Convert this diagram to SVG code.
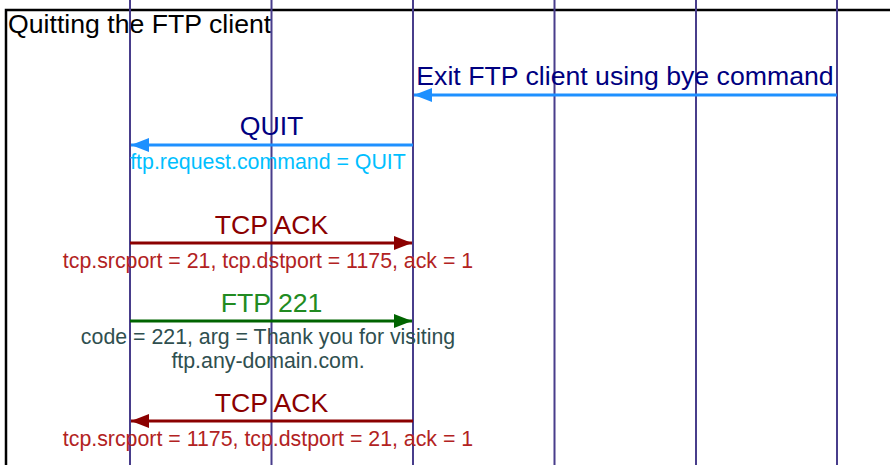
<svg xmlns="http://www.w3.org/2000/svg" width="890" height="465" viewBox="0 0 890 465">
<style>
  text { font-family: "Liberation Sans", Arial, sans-serif; }
  .life { stroke: #483D8B; stroke-width: 2; fill: none; }
  .lbl { font-size: 26.67px; text-anchor: middle; }
  .sub { font-size: 21.33px; text-anchor: middle; }
</style>
<defs>
  <marker id="hBlue" markerUnits="userSpaceOnUse" markerWidth="18" markerHeight="14" refX="18" refY="7" orient="auto"><path d="M0,0 L18,7 L0,14 Z" fill="#1E90FF"/></marker>
  <marker id="hRed" markerUnits="userSpaceOnUse" markerWidth="18" markerHeight="14" refX="18" refY="7" orient="auto"><path d="M0,0 L18,7 L0,14 Z" fill="#8B0000"/></marker>
  <marker id="hGreen" markerUnits="userSpaceOnUse" markerWidth="18" markerHeight="14" refX="18" refY="7" orient="auto"><path d="M0,0 L18,7 L0,14 Z" fill="#006400"/></marker>
</defs>
<rect width="890" height="465" fill="#ffffff"/>
<rect x="6" y="10" width="900" height="470" fill="none" stroke="#000000" stroke-width="2.5"/>
<text x="8" y="33" font-size="26.67" fill="#000000">Quitting the FTP client</text>
<g id="lifelines">
  <line id="l1" class="life" x1="130" y1="0" x2="130" y2="465"/>
  <line id="l2" class="life" x1="271.5" y1="0" x2="271.5" y2="465"/>
  <line id="l3" class="life" x1="413" y1="0" x2="413" y2="465"/>
  <line id="l4" class="life" x1="554.5" y1="0" x2="554.5" y2="465"/>
  <line id="l5" class="life" x1="696" y1="0" x2="696" y2="465"/>
  <line id="l6" class="life" x1="837" y1="0" x2="837" y2="465"/>
</g>
<g id="connectors">
  <line x1="837" y1="95" x2="414" y2="95" stroke="#1E90FF" stroke-width="3" marker-end="url(#hBlue)"/>
  <line x1="413" y1="145" x2="131" y2="145" stroke="#1E90FF" stroke-width="3" marker-end="url(#hBlue)"/>
  <line x1="130" y1="243" x2="412" y2="243" stroke="#8B0000" stroke-width="3" marker-end="url(#hRed)"/>
  <line x1="130" y1="321" x2="412" y2="321" stroke="#006400" stroke-width="3" marker-end="url(#hGreen)"/>
  <line x1="413" y1="421" x2="131" y2="421" stroke="#8B0000" stroke-width="3" marker-end="url(#hRed)"/>
</g>
<g id="labels">
  <text class="lbl" x="625" y="84.5" fill="#000080">Exit FTP client using bye command</text>
  <text class="lbl" x="271.5" y="134.5" fill="#000080">QUIT</text>
  <text class="sub" x="268" y="169" fill="#00BFFF">ftp.request.command = QUIT</text>
  <text class="lbl" x="271.5" y="233.5" fill="#8B0000">TCP ACK</text>
  <text class="sub" x="268" y="268" fill="#B22222">tcp.srcport = 21, tcp.dstport = 1175, ack = 1</text>
  <text class="lbl" x="271.5" y="312" fill="#228B22">FTP 221</text>
  <text class="sub" x="268" y="343.5" fill="#2F4F4F">code = 221, arg = Thank you for visiting</text>
  <text class="sub" x="268" y="367.5" fill="#2F4F4F">ftp.any-domain.com.</text>
  <text class="lbl" x="271.5" y="412" fill="#8B0000">TCP ACK</text>
  <text class="sub" x="268" y="446" fill="#B22222">tcp.srcport = 1175, tcp.dstport = 21, ack = 1</text>
</g>
</svg>
